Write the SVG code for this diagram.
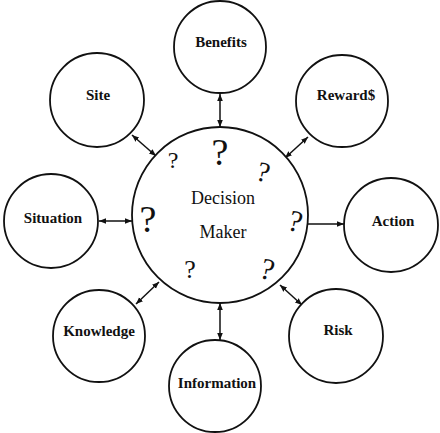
<svg xmlns="http://www.w3.org/2000/svg" width="440" height="433" viewBox="0 0 440 433">
<style>
.n{fill:#fff;stroke:#111;stroke-width:1.8}
.l{font-family:'Liberation Serif','DejaVu Serif',serif;font-weight:bold;font-size:15px;fill:#111;text-anchor:middle}
.c{font-family:'Liberation Serif','DejaVu Serif',serif;font-size:18px;fill:#111;text-anchor:middle}
.q{font-family:'Liberation Serif','DejaVu Serif',serif;fill:#111;text-anchor:middle}
.e{stroke:#111;stroke-width:1.5;fill:none;marker-end:url(#a)}
.d{marker-start:url(#s)}
</style>
<defs>
<marker id="a" viewBox="0 0 10 10" refX="10" refY="5" markerWidth="7" markerHeight="7" markerUnits="userSpaceOnUse" orient="auto"><path d="M0,1 L10,5 L0,9 z" fill="#111"/></marker>
<marker id="s" viewBox="0 0 10 10" refX="0" refY="5" markerWidth="7" markerHeight="7" markerUnits="userSpaceOnUse" orient="auto"><path d="M10,1 L0,5 L10,9 z" fill="#111"/></marker>
</defs>
<rect width="440" height="433" fill="#fff"/>
<g id="connectors">
<line class="e d" x1="220" y1="94" x2="220" y2="127"/>
<line class="e d" x1="308" y1="137" x2="285" y2="158"/>
<line class="e d" x1="132" y1="135" x2="156" y2="156"/>
<line class="e d" x1="99" y1="221" x2="132" y2="221"/>
<line class="e" x1="308" y1="224" x2="344" y2="224"/>
<line class="e d" x1="159" y1="282" x2="136" y2="304"/>
<line class="e d" x1="280" y1="285" x2="302" y2="305"/>
<line class="e d" x1="220" y1="303" x2="220" y2="340"/>
</g>
<g id="decision-maker">
<circle class="n" cx="220" cy="215" r="88" stroke-width="2"/>
<text class="c" x="223" y="204">Decision</text>
<text class="c" x="223" y="238">Maker</text>
<text class="q" x="220" y="165" font-size="38">?</text>
<text class="q" x="173" y="168" font-size="24">?</text>
<text class="q" font-size="28" transform="translate(261,181) rotate(15)">?</text>
<text class="q" x="148" y="232" font-size="38">?</text>
<text class="q" font-size="30" transform="translate(293,231) rotate(15)">?</text>
<text class="q" x="190" y="278" font-size="26">?</text>
<text class="q" font-size="30" transform="translate(265,279) rotate(15)">?</text>
</g>
<g id="benefits"><circle class="n" cx="220" cy="47" r="46"/><text class="l" x="221" y="47">Benefits</text></g>
<g id="reward"><circle class="n" cx="342" cy="101" r="46"/><text class="l" x="346" y="100">Reward$</text></g>
<g id="site"><circle class="n" cx="97" cy="100" r="47"/><text class="l" x="98" y="100">Site</text></g>
<g id="situation"><circle class="n" cx="51" cy="221" r="47"/><text class="l" x="53" y="223">Situation</text></g>
<g id="action"><circle class="n" cx="391" cy="225" r="47"/><text class="l" x="393" y="226">Action</text></g>
<g id="knowledge"><circle class="n" cx="99" cy="336" r="46"/><text class="l" x="99" y="336">Knowledge</text></g>
<g id="risk"><circle class="n" cx="336" cy="336" r="47"/><text class="l" x="338" y="335">Risk</text></g>
<g id="information"><circle class="n" cx="215" cy="386" r="46"/><text class="l" x="217" y="388">Information</text></g>
</svg>
